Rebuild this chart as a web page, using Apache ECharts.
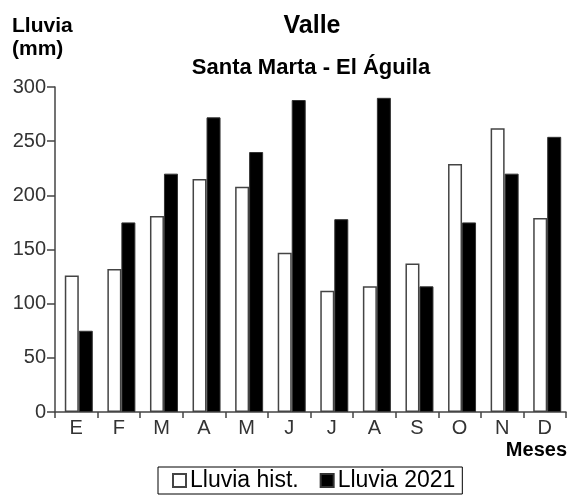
<!DOCTYPE html>
<html><head><meta charset="utf-8">
<script src="https://cdn.jsdelivr.net/npm/echarts@6/dist/echarts.min.js"></script>
<style>html,body{margin:0;padding:0;background:#fff}#c{width:570px;height:496px}</style>
</head><body><div id="c"></div>
<script>
const months = ['E','F','M','A','M','J','J','A','S','O','N','D'];
const lluviaHist = [126,132,181,215,208,147,112,116,137,229,262,179];
const lluvia2021 = [75,175,220,272,240,288,178,290,116,175,220,254];
const yTicks = {min:0, max:300, interval:50};
const FONT = 'Liberation Sans, Arial, sans-serif';

const chart = echarts.init(document.getElementById('c'), null, {renderer:'canvas'});
chart.setOption({
  animation:false,
  backgroundColor:'#fff',
  textStyle:{fontFamily:FONT},
  title:[
    {text:'Valle', left:307, top:9, textAlign:'center', textStyle:{fontSize:25, fontWeight:'bold', color:'#000', fontFamily:FONT}},
    {text:'Santa Marta - El Águila', left:306, top:52, textAlign:'center', textStyle:{fontSize:22, fontWeight:'bold', color:'#000', fontFamily:FONT}}
  ],
  graphic:[
    {type:'text', left:12, top:15, style:{text:'Lluvia\n(mm)', font:'bold 21px '+FONT, fill:'#000', lineHeight:23}},
    {type:'text', right:3, top:440, style:{text:'Meses', font:'bold 20px '+FONT, fill:'#000'}}
  ],
  legend:{
    bottom:2, left:158,
    data:['Lluvia hist.','Lluvia 2021'],
    icon:'rect', itemWidth:13, itemHeight:13, itemGap:21,
    borderColor:'#000', borderWidth:1, padding:[2,7,2,14],
    textStyle:{fontSize:23, color:'#000', fontFamily:FONT, padding:[0,0,0,-1]}
  },
  grid:{left:55, right:4, top:87, bottom:84, containLabel:false},
  xAxis:{
    type:'category', data:months,
    axisLine:{lineStyle:{color:'#444', width:1.5}},
    axisTick:{show:true, length:6, lineStyle:{color:'#444', width:1.5}},
    axisLabel:{fontSize:20, color:'#333', margin:6, fontFamily:FONT}
  },
  yAxis:{
    type:'value', min:yTicks.min, max:yTicks.max, interval:yTicks.interval,
    splitLine:{show:false},
    axisLine:{show:true, lineStyle:{color:'#444', width:1.5}},
    axisTick:{show:true, length:8, lineStyle:{color:'#444', width:1.5}},
    axisLabel:{fontSize:20, color:'#333', margin:9, fontFamily:FONT}
  },
  series:[
    {name:'_pad', type:'bar', barWidth:5, data:months.map(()=>'-'), itemStyle:{color:'transparent'}, silent:true},
    {name:'Lluvia hist.', type:'bar', barWidth:14, barGap:0, data:lluviaHist,
      itemStyle:{color:'#fff', borderColor:'#444', borderWidth:1.5}},
    {name:'Lluvia 2021', type:'bar', barWidth:14, barGap:0, data:lluvia2021,
      itemStyle:{color:'#000', borderColor:'#333', borderWidth:1}}
  ]
});
</script></body></html>
